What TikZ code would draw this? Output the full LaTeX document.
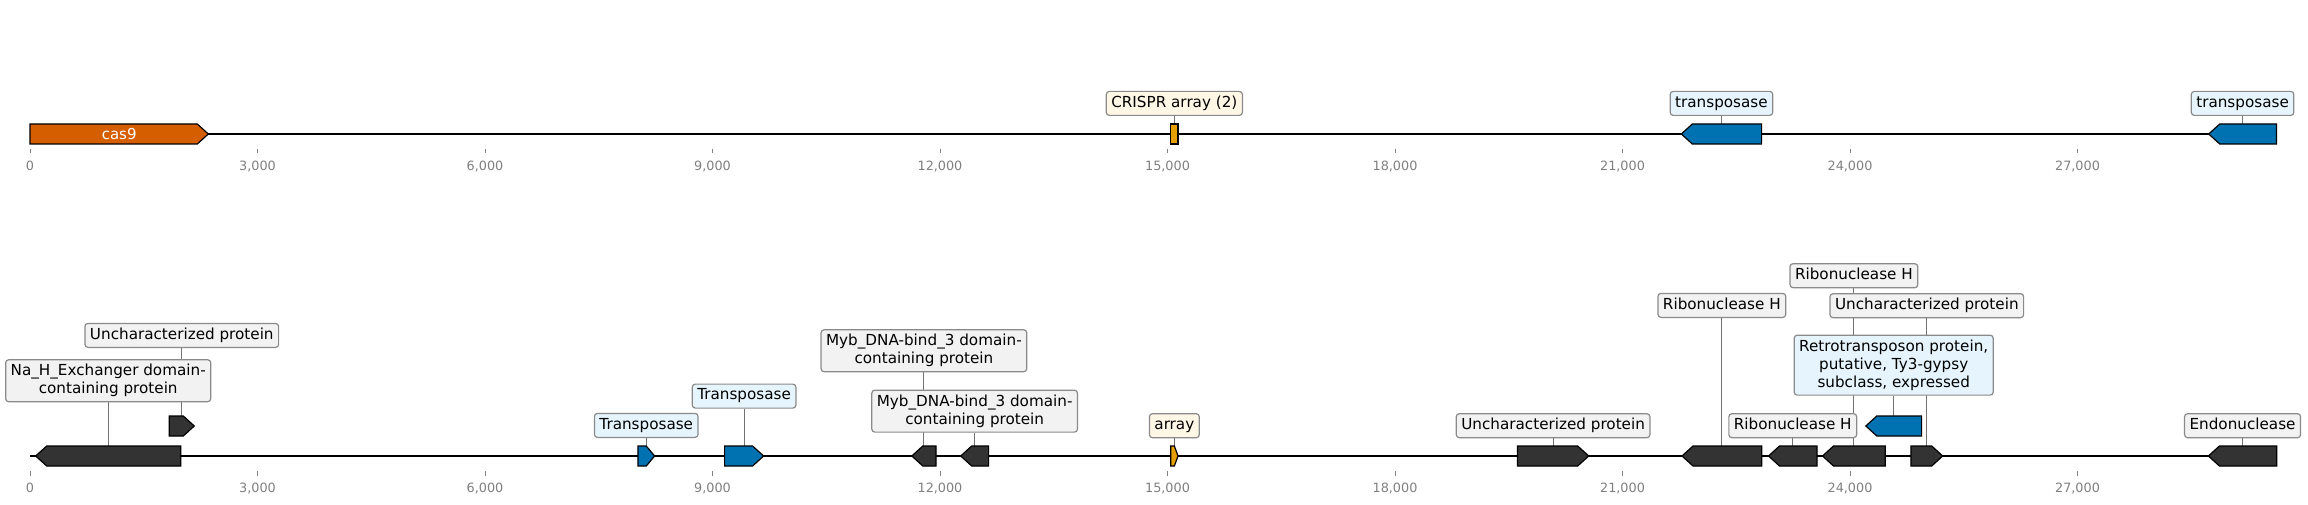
\documentclass[tikz,border=0pt]{standalone}
\usepackage{fontspec}
\setmainfont{DejaVu Sans}
\usetikzlibrary{positioning,backgrounds}

\definecolor{genegray}{HTML}{333333}
\definecolor{geneblue}{HTML}{0072B2}
\definecolor{geneorange}{HTML}{D55E00}
\definecolor{genearray}{HTML}{E69F00}
\definecolor{labgray}{HTML}{F2F2F2}
\definecolor{labblue}{HTML}{E6F5FD}
\definecolor{labcream}{HTML}{FFF7E6}
\definecolor{labedge}{HTML}{8A8A8A}
\definecolor{tickgray}{HTML}{808080}

% gene arrow: name, start, end, strand (1, -1, 0), fill, centre y
\newcommand{\gene}[6]{%
  \pgfmathsetmacro\gmid{(#2+#3)/2}%
  \pgfmathsetmacro\ghd{min(11,0.5*(#3-#2))}%
  \ifnum#4=1
    \draw[gene box,fill=#5] (#2,{#6-10}) -- ({#3-\ghd},{#6-10}) -- (#3,#6)
      -- ({#3-\ghd},{#6+10}) -- (#2,{#6+10}) -- cycle;
  \else\ifnum#4=-1
    \draw[gene box,fill=#5] (#3,{#6-10}) -- ({#2+\ghd},{#6-10}) -- (#2,#6)
      -- ({#2+\ghd},{#6+10}) -- (#3,{#6+10}) -- cycle;
  \else
    \draw[gene box,fill=#5] (#2,{#6-10}) rectangle (#3,{#6+10});
  \fi\fi
  \coordinate (#1) at (\gmid,{#6-10});
}

\begin{document}
\begin{tikzpicture}[x=1pt,y=-1pt,
    gene box/.style={draw=black,line width=1.2pt},
    feat label/.style={draw=labedge,fill=labgray,rounded corners=3pt,line width=1.2pt,
        inner xsep=5pt,inner ysep=4.6pt,font=\fontsize{15.2}{18}\selectfont,
        text height=11.2pt,text depth=3.6pt},
    multi label/.style={draw=labedge,fill=labgray,rounded corners=3pt,line width=1.2pt,
        inner xsep=5pt,inner ysep=4.6pt,font=\fontsize{15.2}{18}\selectfont,align=center},
    lead/.style={draw=black!55,line width=1pt},
    track/.style={draw=black,line width=2pt},
    axis tick/.style={draw=tickgray,line width=1pt},
    tick label/.style={text=tickgray,font=\fontsize{12.8}{15}\selectfont,
        inner sep=0pt,text height=9.3pt,text depth=0pt}]

    \useasboundingbox (0,0) rectangle (2308,505);

    % Axes
    \foreach \y in {134,456}{
        \draw[track] (30,\y) -- (2276.5,\y);
        \foreach \k in {0,3,...,27}{
            \draw[axis tick] ({30+\k*75.8333},{\y+15}) -- ++(0,4.5);
            \node[tick label] (t\y-\k) at ({30+\k*75.8333},{\y+32.3})
                {\ifnum\k=0 0\else\k,000\fi};
        }
    }

    % Top track genes
    \gene{cas9}{30}{208.3}{1}{geneorange}{134}
    \gene{crispr}{1170.7}{1178}{0}{genearray}{134}
    \gene{tnpA}{1681.3}{1761.6}{-1}{geneblue}{134}
    \gene{tnpB}{2208.7}{2276.4}{-1}{geneblue}{134}
    \node[text=white,font=\fontsize{15}{18}\selectfont] (cas9T) at ([yshift=-10pt]cas9) {cas9};

    % Bottom track genes
    \gene{nah}{35.7}{180.7}{-1}{genegray}{456}
    \gene{uncA}{169.3}{194.3}{1}{genegray}{426}
    \gene{tpA}{637.9}{654.6}{1}{geneblue}{456}
    \gene{tpB}{724.6}{763.6}{1}{geneblue}{456}
    \gene{mybA}{911.8}{936}{-1}{genegray}{456}
    \gene{mybB}{960.7}{988.6}{-1}{genegray}{456}
    \gene{arr}{1170.7}{1178}{1}{genearray}{456}
    \gene{uncB}{1517.5}{1588.7}{1}{genegray}{456}
    \gene{rnhA}{1682}{1761.7}{-1}{genegray}{456}
    \gene{rnhB}{1768.5}{1817}{-1}{genegray}{456}
    \gene{rnhC}{1822.5}{1885.3}{-1}{genegray}{456}
    \gene{retro}{1865.8}{1921.6}{-1}{geneblue}{426}
    \gene{uncC}{1910.9}{1942.7}{1}{genegray}{456}
    \gene{endo}{2208.4}{2276.7}{-1}{genegray}{456}

    % Labels
    \node[feat label,fill=labcream,above=8pt of crispr] (crisprL) {CRISPR array (2)};
    \node[feat label,fill=labblue,above=8pt of tnpA] (tnpAL) {transposase};
    \node[feat label,fill=labblue,above=8pt of tnpB] (tnpBL) {transposase};

    \node[multi label,above=43.7pt of nah] (nahL) {Na\_H\_Exchanger domain-\\containing protein};
    \node[feat label,above=68pt of uncA] (uncAL) {Uncharacterized protein\ };
    \node[feat label,fill=labblue,above=8pt of tpA] (tpAL) {Transposase\ };
    \node[feat label,fill=labblue,above=37.3pt of tpB] (tpBL) {Transposase\ };
    \node[multi label,above=73.7pt of mybA] (mybAL) {Myb\_DNA-bind\_3 domain-\\containing protein};
    \node[multi label,above=13.3pt of mybB] (mybBL) {Myb\_DNA-bind\_3 domain-\\containing protein};
    \node[feat label,fill=labcream,above=7.7pt of arr] (arrL) {array};
    \node[feat label,above=7.7pt of uncB] (uncBL) {Uncharacterized protein\ };
    \node[feat label,above=128pt of rnhA] (rnhAL) {Ribonuclease H\ };
    \node[feat label,above=7.7pt of rnhB] (rnhBL) {Ribonuclease H\ };
    \node[feat label,above=157.7pt of rnhC] (rnhCL) {Ribonuclease H\ };
    \node[multi label,fill=labblue,above=20.3pt of retro] (retroL) {Retrotransposon protein,\\putative, Ty3-gypsy\\subclass, expressed};
    \node[feat label,above=127.7pt of uncC] (uncCL) {Uncharacterized protein\ };
    \node[feat label,above=7.7pt of endo] (endoL) {Endonuclease\ };

    % Leader lines
    \begin{scope}[on background layer]
        \foreach \g in {crispr,tnpA,tnpB,nah,uncA,tpA,tpB,mybA,mybB,arr,uncB,rnhA,rnhB,rnhC,retro,uncC,endo}
            \draw[lead] (\g L) -- (\g);
    \end{scope}

\end{tikzpicture}
\end{document}
